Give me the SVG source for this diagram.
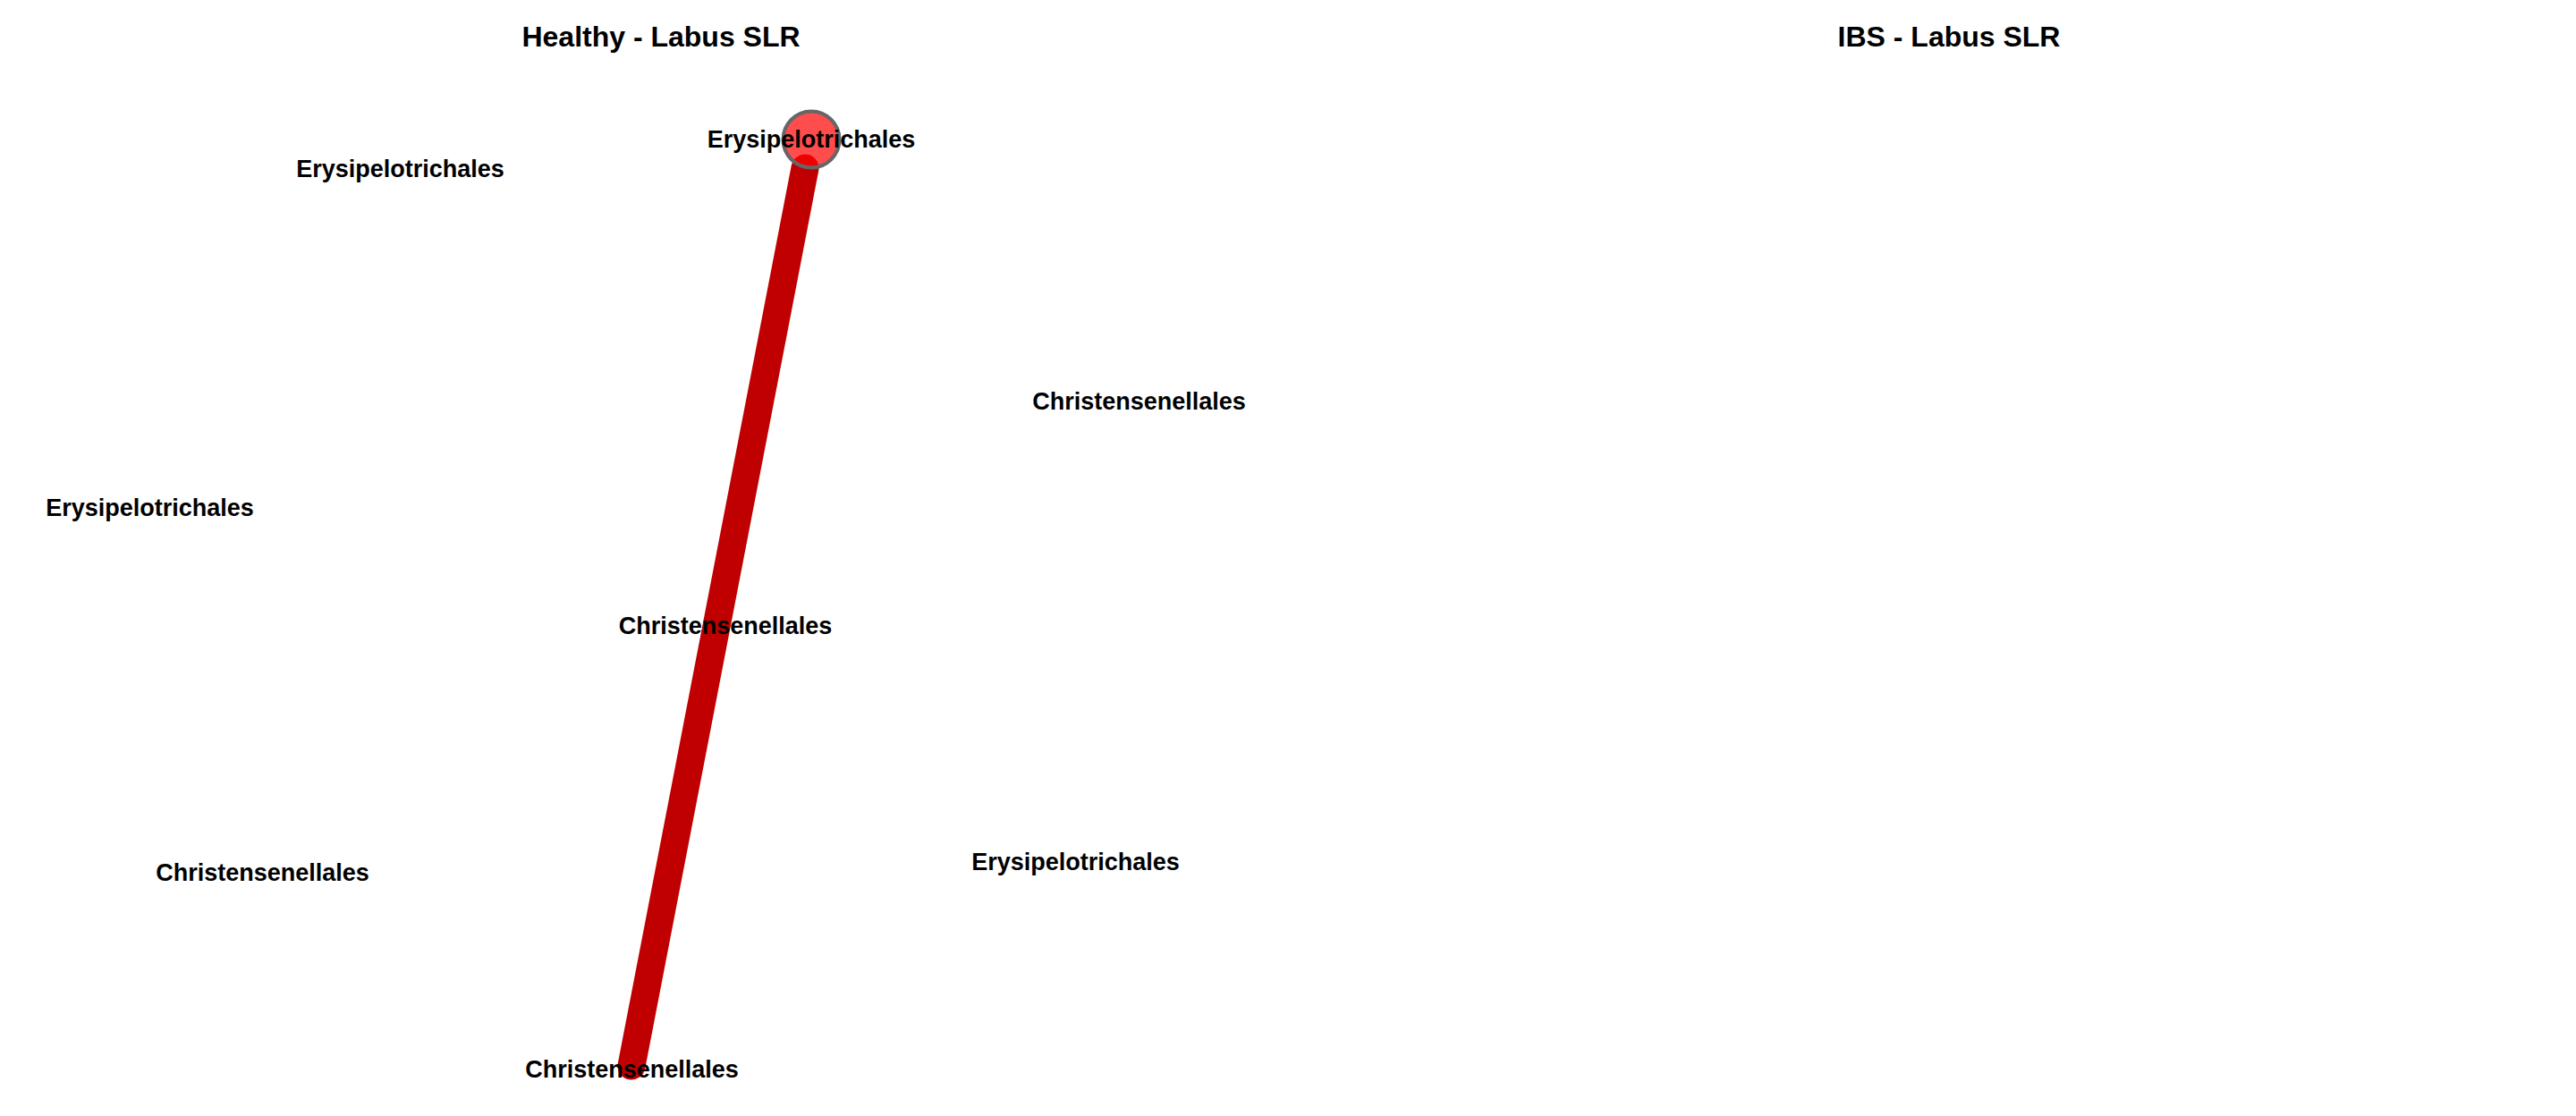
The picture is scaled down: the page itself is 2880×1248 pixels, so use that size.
<svg xmlns="http://www.w3.org/2000/svg" width="2880" height="1248" viewBox="0 0 2880 1248">
<style>
.title{font-family:"Liberation Sans",Arial,sans-serif;font-weight:bold;font-size:32px;fill:#000;text-anchor:middle}
.lbl{font-family:"Liberation Sans",Arial,sans-serif;font-weight:bold;font-size:27px;fill:#000;text-anchor:middle}
.edge{stroke:#c00000;stroke-width:31;stroke-linecap:round;fill:none}
.node{fill:#ff0000;fill-opacity:0.7;stroke:#666666;stroke-width:4}
</style>
<rect width="2880" height="1248" fill="#ffffff"/>
<text class="title" x="739" y="52">Healthy - Labus SLR</text>
<text class="title" x="2179" y="52">IBS - Labus SLR</text>
<g id="connectors">
<line class="edge" x1="900" y1="188" x2="706" y2="1192"/>
</g>
<g id="node-ery1"><circle class="node" cx="907" cy="156" r="31.5"/><text class="lbl" x="907" y="165">Erysipelotrichales</text></g>
<g id="node-ery2"><text class="lbl" x="447.5" y="198">Erysipelotrichales</text></g>
<g id="node-chr1"><text class="lbl" x="1273.5" y="458">Christensenellales</text></g>
<g id="node-ery3"><text class="lbl" x="167.5" y="577">Erysipelotrichales</text></g>
<g id="node-chr2"><text class="lbl" x="811" y="709">Christensenellales</text></g>
<g id="node-ery4"><text class="lbl" x="1202.5" y="973">Erysipelotrichales</text></g>
<g id="node-chr3"><text class="lbl" x="293.5" y="985">Christensenellales</text></g>
<g id="node-chr4"><text class="lbl" x="706.5" y="1205">Christensenellales</text></g>
</svg>
